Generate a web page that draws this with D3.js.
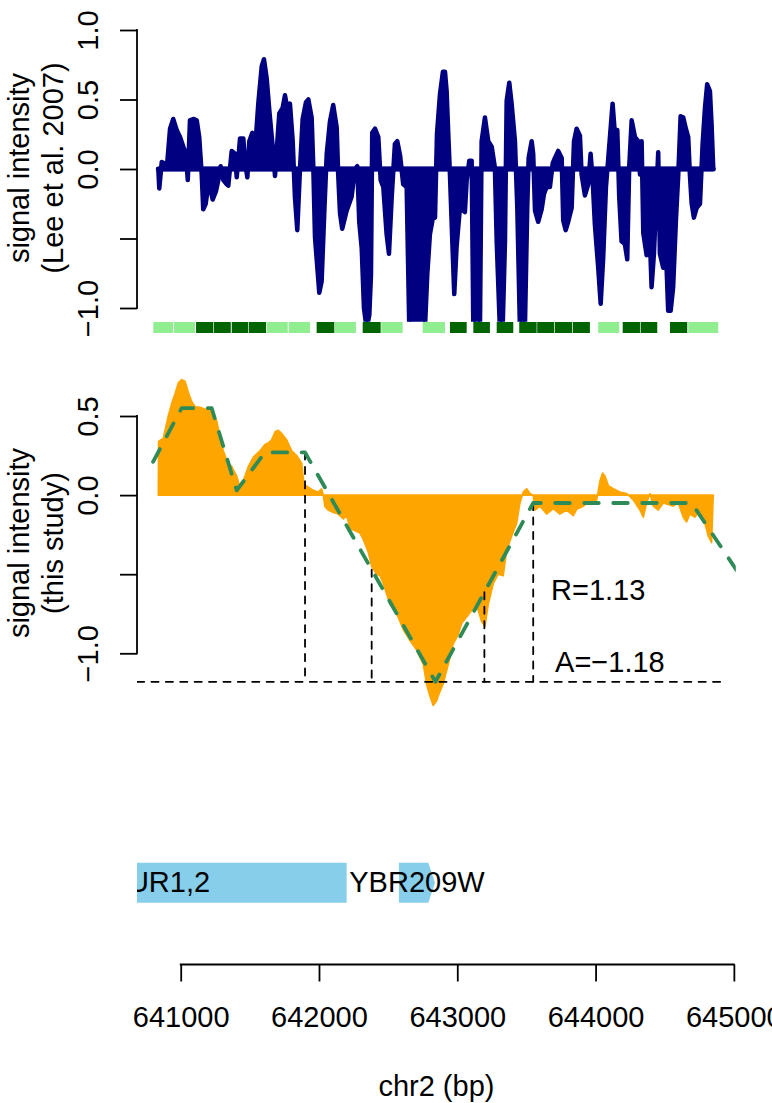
<!DOCTYPE html>
<html><head><meta charset="utf-8">
<script src="https://cdn.jsdelivr.net/npm/d3@7"></script>
<style>
body{margin:0;background:#fff}
svg{display:block}
text{font-family:"Liberation Sans",Arial,Helvetica,sans-serif}
</style>
</head><body>
<svg id="c" width="772" height="1103"></svg>
<script>
// ---------------- data ----------------
// top panel: Lee et al. 2007 signal  [position (bp), value]
const leeSignal = [
[640838,0],[640845,-0.14],[640863,0.05],[640886,0.04],[640899,0],[640923,0.29],[640946,0.36],[640971,0.28],
[640995,0.23],[641019,0.16],[641038,0.11],[641051,-0.08],[641067,0.35],[641091,0.36],[641116,0.35],[641134,0.23],
[641152,-0.04],[641163,-0.29],[641181,-0.25],[641200,-0.11],[641212,-0.13],[641231,-0.22],[641255,-0.16],[641272,-0.08],
[641289,0.02],[641308,-0.08],[641333,-0.11],[641344,-0.12],[641369,0.13],[641393,0.11],[641405,-0.06],[641429,0.22],
[641453,0.22],[641465,0.05],[641482,-0.06],[641496,0.2],[641518,0.26],[641537,0.13],[641561,0.47],[641586,0.74],
[641602,0.79],[641622,0.65],[641641,0.42],[641665,0.16],[641682,-0.05],[641694,0.13],[641713,0.4],[641737,0.44],
[641754,0.53],[641774,0.42],[641790,0.47],[641810,0.2],[641826,-0.2],[641843,-0.44],[641863,0.01],[641882,0.36],
[641906,0.48],[641923,0.5],[641947,0.37],[641959,0.01],[641971,-0.49],[641988,-0.71],[642002,-0.89],[642019,-0.81],
[642038,-0.32],[642056,0.11],[642079,0.34],[642103,0.46],[642128,0.3],[642139,-0.04],[642152,-0.32],[642168,-0.43],
[642200,-0.3],[642236,-0.2],[642260,0],[642277,0.02],[642291,-0.38],[642309,-0.57],[642325,-1.0],[642345,-1.15],
[642364,-1.05],[642376,-0.76],[642385,0.26],[642405,0.29],[642429,0.23],[642446,-0.08],[642465,-0.13],[642489,-0.47],
[642506,-0.61],[642526,-0.2],[642549,0.18],[642566,0.2],[642586,0.1],[642609,-0.11],[642634,-0.13],[642653,-1.15],
[642706,-1.15],[642766,-1.15],[642783,-0.76],[642802,-0.47],[642822,-0.36],[642839,-0.35],[642853,0.25],[642875,0.54],
[642896,0.7],[642911,0.7],[642923,0.56],[642935,0.25],[642947,-0.04],[642964,-0.52],[642978,-0.9],[642995,-0.56],
[643019,-0.28],[643043,-0.3],[643055,-0.31],[643068,-0.08],[643087,0.06],[643104,0.06],[643116,-1.15],[643140,-1.15],
[643164,-1.15],[643176,0.2],[643200,0.37],[643224,0.2],[643249,0.16],[643272,0.01],[643285,-0.52],[643308,-1.15],
[643328,-1.15],[643345,-0.52],[643357,0.49],[643376,0.62],[643393,0.47],[643417,0.2],[643434,-0.28],[643453,-1.15],
[643489,-1.15],[643506,-0.28],[643516,0.08],[643538,0.2],[643549,0.11],[643562,-0.3],[643585,-0.38],[643610,-0.29],
[643627,-0.18],[643646,-0.13],[643670,-0.13],[643690,0.04],[643706,0.08],[643730,0.13],[643755,0.08],[643766,-0.37],
[643784,-0.44],[643802,-0.38],[643827,-0.28],[643844,0.2],[643863,0.29],[643887,0.24],[643899,-0.04],[643923,-0.19],
[643947,-0.11],[643964,0.11],[643979,-0.08],[643995,-0.4],[644019,-0.71],[644037,-0.97],[644055,-0.64],[644075,-0.13],
[644092,0.08],[644104,0.23],[644123,0.47],[644140,0.25],[644157,0.28],[644171,-0.2],[644188,-0.52],[644212,-0.54],
[644229,-0.65],[644243,0.01],[644261,0.35],[644285,0.23],[644308,0.2],[644321,-0.04],[644333,0.2],[644345,-0.46],
[644369,-0.62],[644388,-0.37],[644405,-0.85],[644422,-0.61],[644436,-0.28],[644453,0.12],[644465,-0.61],[644489,-0.71],
[644509,-0.59],[644525,-1.02],[644543,-1.02],[644561,-0.85],[644581,-0.37],[644598,-0.04],[644615,0.38],[644634,0.37],
[644653,0.29],[644670,0.23],[644682,-0.04],[644695,-0.25],[644711,-0.35],[644731,-0.28],[644755,-0.25],[644774,0.18],
[644791,0.44],[644807,0.61],[644827,0.56],[644839,0.32],[644851,0]
];

// segment track under top panel: [start, end, class] (1 = dark, 0 = light)
const segments = [
[640802,640946,0],[640952,641103,0],[641111,641236,1],[641241,641362,1],[641369,641489,1],[641494,641617,1],
[641622,641774,0],[641781,641935,0],[641983,642111,1],[642116,642267,0],[642316,642446,1],[642450,642605,0],
[642750,642911,0],[642947,643068,1],[643116,643236,1],[643285,643405,1],[643448,643574,1],[643578,643701,1],
[643706,643831,1],[643836,643959,1],[644019,644171,0],[644196,644321,1],[644326,644446,1],[644538,644663,1],
[644670,644887,0]
];
const segColors = ["#90EE90", "#006400"];

// bottom panel: this study signal [position (bp), value]
const studySignal = [
[640838,0],[640840,0.34],[640874,0.36],[640910,0.5],[640935,0.58],[640959,0.64],[640983,0.71],[641007,0.73],
[641031,0.72],[641055,0.65],[641080,0.59],[641103,0.56],[641140,0.555],[641188,0.54],[641224,0.53],[641260,0.47],
[641284,0.37],[641308,0.28],[641337,0.21],[641369,0.18],[641405,0.12],[641429,0.05],[641441,0.06],[641465,0.12],
[641489,0.18],[641525,0.24],[641573,0.28],[641609,0.32],[641633,0.33],[641658,0.35],[641682,0.4],[641706,0.41],
[641730,0.39],[641766,0.35],[641803,0.28],[641839,0.25],[641875,0.2],[641891,0.07],[641923,0.05],[641959,0.03],
[641995,0.02],[642019,0.04],[642031,0],[642043,-0.074],[642067,-0.095],[642103,-0.11],[642139,-0.12],[642176,-0.15],
[642200,-0.13],[642224,-0.21],[642248,-0.22],[642296,-0.24],[642320,-0.28],[642356,-0.36],[642381,-0.45],[642417,-0.5],
[642441,-0.51],[642465,-0.56],[642513,-0.69],[642562,-0.75],[642609,-0.85],[642658,-0.92],[642706,-0.98],[642754,-1.07],
[642779,-1.2],[642802,-1.27],[642826,-1.33],[642851,-1.3],[642862,-1.27],[642899,-1.19],[642935,-1.07],[642971,-0.94],
[643007,-0.88],[643032,-0.81],[643068,-0.77],[643104,-0.73],[643128,-0.69],[643152,-0.73],[643176,-0.8],[643200,-0.83],
[643224,-0.69],[643260,-0.56],[643296,-0.5],[643332,-0.51],[643357,-0.35],[643393,-0.26],[643429,-0.18],[643453,-0.05],
[643477,0.02],[643502,0.04],[643525,0.01],[643549,0],[643562,-0.095],[643598,-0.07],[643646,-0.12],[643694,-0.085],
[643742,-0.12],[643791,-0.095],[643839,-0.13],[643863,-0.09],[643911,-0.07],[643959,-0.04],[644008,-0.03],[644032,0.09],
[644051,0.14],[644068,0.12],[644092,0.06],[644128,0.04],[644176,0.02],[644225,0.01],[644272,-0.03],[644321,-0.095],
[644345,-0.14],[644369,-0.05],[644393,0.01],[644417,-0.07],[644453,-0.095],[644489,-0.05],[644525,-0.06],[644561,-0.07],
[644598,-0.05],[644634,-0.14],[644658,-0.17],[644682,-0.12],[644718,-0.14],[644755,-0.095],[644791,-0.18],[644815,-0.26],
[644839,-0.3],[644851,0]
];

// piecewise-linear fit (green dashed)
const fitPos = [640800, 641007, 641224, 641405, 641609, 641899, 642842, 643549, 644695, 645100];
const fitVal = [0.21, 0.55, 0.55, 0.03, 0.27, 0.27, -1.18, -0.05, -0.05, -0.58];
// breakpoints (vertical dashed) and amplitude level (horizontal dashed)
const breakPos = [641899, 642381, 643196, 643549];
const levelVal = -1.18;
const levelEnd = 644921;
const annotTexts = ["R=1.13", "A=\u22121.18"];
const annotPos = [643678, 643707];
const annotVal = [-0.665, -1.12];

// genes
const geneNames = ["DUR1,2", "YBR209W"];
const geneStart = [639480, 642578];
const geneEnd = [642200, 642839];
const geneStrand = ["-", "+"];

// ticks
const xTicks = [641000, 642000, 643000, 644000, 645000];
const xTickLabels = ["641000", "642000", "643000", "644000", "645000"];
const topTicks = [-1, -0.5, 0, 0.5, 1];
const topTickLabels = ["\u22121.0", "", "0.0", "0.5", "1.0"];
const botTicks = [-1, -0.5, 0, 0.5];
const botTickLabels = ["\u22121.0", "", "0.0", "0.5"];
const topYLabel = ["signal intensity", "(Lee et al. 2007)"];
const botYLabel = ["signal intensity", "(this study)"];
const xLabel = "chr2 (bp)";

// ---------------- layout ----------------
const svg = d3.select("#c");
const FS = 29;
const LW = 1.8;
const plotL = 137, plotR = 735.8;
const x = d3.scaleLinear().domain([640684, 645014]).range([plotL, plotR]);
const yTop = d3.scaleLinear().domain([-1, 1]).range([308, 30]);
const yBot = d3.scaleLinear().domain([-1, 0.5]).range([653.3, 416]);

const defs = svg.append("defs");
function clip(id, y0, y1) {
  defs.append("clipPath").attr("id", id).append("rect")
    .attr("x", plotL).attr("y", y0).attr("width", plotR - plotL).attr("height", y1 - y0);
}
clip("cTop", 0, 321.7);
clip("cTrack", 315, 340);
clip("cBot", 360, 730);
clip("cGene", 840, 925);

// ---- top panel signal ----
const gTop = svg.append("g").attr("clip-path", "url(#cTop)");
const areaTop = d3.area().x(d => x(d[0])).y0(yTop(0)).y1(d => yTop(d[1]));
gTop.append("path").datum(leeSignal).attr("d", areaTop)
  .attr("fill", "#000080").attr("stroke", "#000080").attr("stroke-width", 4.5).attr("stroke-linejoin", "round");
gTop.append("line")
  .attr("x1", x(leeSignal[0][0])).attr("x2", x(leeSignal[leeSignal.length - 1][0]))
  .attr("y1", yTop(0)).attr("y2", yTop(0))
  .attr("stroke", "#000080").attr("stroke-width", 5).attr("stroke-linecap", "round");

// segment track
const trackY = 322, trackH = 11;
svg.append("g").attr("clip-path", "url(#cTrack)").selectAll("rect").data(segments).join("rect")
  .attr("x", d => x(d[0])).attr("width", d => x(d[1]) - x(d[0]))
  .attr("y", trackY).attr("height", trackH)
  .attr("fill", d => segColors[d[2]]);

// ---- bottom panel ----
const gBot = svg.append("g").attr("clip-path", "url(#cBot)");
const areaBot = d3.area().x(d => x(d[0])).y0(yBot(0)).y1(d => yBot(d[1]));
gBot.append("path").datum(studySignal).attr("d", areaBot)
  .attr("fill", "#FFA500").attr("stroke", "#FFA500").attr("stroke-width", 1.6).attr("stroke-linejoin", "round");

const fitAt = p => {
  const i = d3.bisectRight(fitPos, p) - 1;
  const t = (p - fitPos[i]) / (fitPos[i + 1] - fitPos[i]);
  return fitVal[i] + t * (fitVal[i + 1] - fitVal[i]);
};
const dashBlack = "7.2,7.2";
// horizontal level line
gBot.append("line")
  .attr("x1", x(640684)).attr("x2", x(levelEnd))
  .attr("y1", yBot(levelVal)).attr("y2", yBot(levelVal))
  .attr("stroke", "#000").attr("stroke-width", LW).attr("stroke-dasharray", dashBlack).attr("stroke-linecap", "round");
// vertical breakpoint lines
gBot.selectAll("line.bp").data(breakPos).join("line").attr("class", "bp")
  .attr("x1", d => x(d)).attr("x2", d => x(d))
  .attr("y1", d => yBot(fitAt(d))).attr("y2", yBot(levelVal))
  .attr("stroke", "#000").attr("stroke-width", LW).attr("stroke-dasharray", dashBlack).attr("stroke-linecap", "round");
// fit line
gBot.append("path").datum(fitPos.map((p, i) => [p, fitVal[i]]))
  .attr("d", d3.line().x(d => x(d[0])).y(d => yBot(d[1])))
  .attr("fill", "none").attr("stroke", "#2E8B57").attr("stroke-width", 3.8)
  .attr("stroke-dasharray", "14.5,14.5").attr("stroke-linecap", "round").attr("stroke-linejoin", "round");

// annotations
svg.selectAll("text.annot").data(annotTexts).join("text").attr("class", "annot")
  .attr("x", (d, i) => x(annotPos[i])).attr("y", (d, i) => yBot(annotVal[i]))
  .attr("font-size", FS).attr("fill", "#000").text(d => d);

// ---- genes ----
const gGene = svg.append("g").attr("clip-path", "url(#cGene)");
const gTopY = 862.7, gBotY = 902.7, head = 6.7;
geneNames.forEach((name, i) => {
  const x0 = x(geneStart[i]), x1 = x(geneEnd[i]);
  const ym = (gTopY + gBotY) / 2;
  let pts;
  if (geneStrand[i] === "+") {
    pts = [[x0, gTopY], [x1 - head, gTopY], [x1, ym], [x1 - head, gBotY], [x0, gBotY]];
  } else {
    pts = [[x0 + head, gTopY], [x1, gTopY], [x1, gBotY], [x0 + head, gBotY], [x0, ym]];
  }
  gGene.append("polygon").attr("points", pts.map(p => p.join(",")).join(" ")).attr("fill", "#87CEEB");
});
geneNames.forEach((name, i) => {
  gGene.append("text")
    .attr("x", x((geneStart[i] + geneEnd[i]) / 2)).attr("y", 891.7)
    .attr("text-anchor", "middle").attr("font-size", FS).attr("fill", "#000").text(name);
});

// ---- axes ----
function yAxis(scale, ticks, labels) {
  const g = svg.append("g").attr("transform", `translate(${plotL},0)`);
  g.call(d3.axisLeft(scale).tickValues(ticks).tickSize(17).tickSizeOuter(0)
    .tickFormat(d => labels[ticks.indexOf(d)]));
  g.attr("font-size", FS).attr("font-family", null);
  g.select(".domain").remove();
  g.append("line").attr("x1", 0).attr("x2", 0)
    .attr("y1", scale(d3.min(ticks))).attr("y2", scale(d3.max(ticks)))
    .attr("stroke", "#000").attr("stroke-width", LW).attr("stroke-linecap", "square");
  g.selectAll(".tick line").attr("stroke", "#000").attr("stroke-width", LW);
  g.selectAll(".tick text").attr("x", null).attr("dy", null).attr("fill", "#000")
    .attr("text-anchor", "middle").attr("transform", "translate(-39.3,0) rotate(-90)");
}
yAxis(yTop, topTicks, topTickLabels);
yAxis(yBot, botTicks, botTickLabels);

function yTitle(lines, cy) {
  lines.forEach((t, i) => {
    svg.append("text").attr("transform", `translate(${28.5 + i * 34.8},${cy}) rotate(-90)`)
      .attr("text-anchor", "middle").attr("font-size", FS).attr("fill", "#000").text(t);
  });
}
yTitle(topYLabel, 168);
yTitle(botYLabel, 543);

const gx = svg.append("g").attr("transform", "translate(0,964.5)");
gx.call(d3.axisBottom(x).tickValues(xTicks).tickSize(17).tickSizeOuter(0)
  .tickFormat(d => xTickLabels[xTicks.indexOf(d)]));
gx.attr("font-size", FS).attr("font-family", null);
gx.select(".domain").remove();
gx.append("line").attr("x1", x(xTicks[0])).attr("x2", x(xTicks[xTicks.length - 1]))
  .attr("y1", 0).attr("y2", 0).attr("stroke", "#000").attr("stroke-width", LW).attr("stroke-linecap", "square");
gx.selectAll(".tick line").attr("stroke", "#000").attr("stroke-width", LW);
gx.selectAll(".tick text").attr("y", 62.2).attr("dy", null).attr("fill", "#000");

svg.append("text").attr("x", (plotL + plotR) / 2).attr("y", 1096)
  .attr("text-anchor", "middle").attr("font-size", FS).attr("fill", "#000").text(xLabel);
</script>
</body></html>
